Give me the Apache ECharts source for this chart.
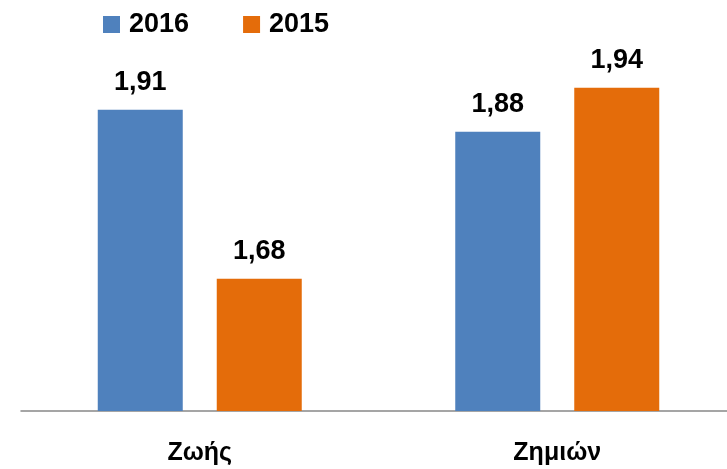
<!DOCTYPE html>
<html>
<head>
<meta charset="utf-8">
<script src="https://cdn.jsdelivr.net/npm/echarts@6/dist/echarts.min.js"></script>
<style>
  html, body { margin: 0; padding: 0; background: #fff; }
  #chart { width: 727px; height: 469px; }
</style>
</head>
<body>
<div id="chart"></div>
<script>
// data
var categories = ["Ζωής", "Ζημιών"];
var legendNames = ["2016", "2015"];
var values2016 = [1.91, 1.88];
var values2015 = [1.68, 1.94];

var font = "Liberation Sans, Arial, sans-serif";
var myChart = echarts.init(document.getElementById("chart"));

var labelOpt = {
  show: true,
  position: "top",
  distance: 14,
  color: "#000",
  fontFamily: font,
  fontWeight: "bold",
  fontSize: 27,
  // decimal comma like the original
  formatter: function (p) { return p.value.toFixed(2).replace(".", ","); }
};

var option = {
  animation: false,
  legend: {
    data: legendNames,
    left: 98,
    top: 6,
    icon: "rect",
    itemWidth: 17,
    itemHeight: 17,
    itemGap: 54,
    textStyle: {
      color: "#000",
      fontFamily: font,
      fontWeight: "bold",
      fontSize: 27,
      padding: [0, 0, 0, 4]
    }
  },
  grid: {
    left: 21,
    right: -9,
    top: 43.6,
    bottom: 58,
    containLabel: false,
    outerBoundsMode: "none"
  },
  xAxis: {
    type: "category",
    data: categories,
    axisTick: { show: false },
    axisLine: { lineStyle: { color: "#888", width: 1.5 } },
    axisLabel: {
      margin: 30,
      color: "#000",
      fontFamily: font,
      fontWeight: "bold",
      fontSize: 25
    }
  },
  yAxis: {
    type: "value",
    min: 1.5,
    max: 2.0,
    show: false,
    splitLine: { show: false }
  },
  series: [
    {
      name: "2016",
      type: "bar",
      data: values2016,
      barWidth: 85,
      barGap: "40%",
      itemStyle: { color: "#4F81BD" },
      label: labelOpt
    },
    {
      name: "2015",
      type: "bar",
      data: values2015,
      barWidth: 85,
      itemStyle: { color: "#E46C0A" },
      label: labelOpt
    }
  ]
};
myChart.setOption(option);
</script>
</body>
</html>
